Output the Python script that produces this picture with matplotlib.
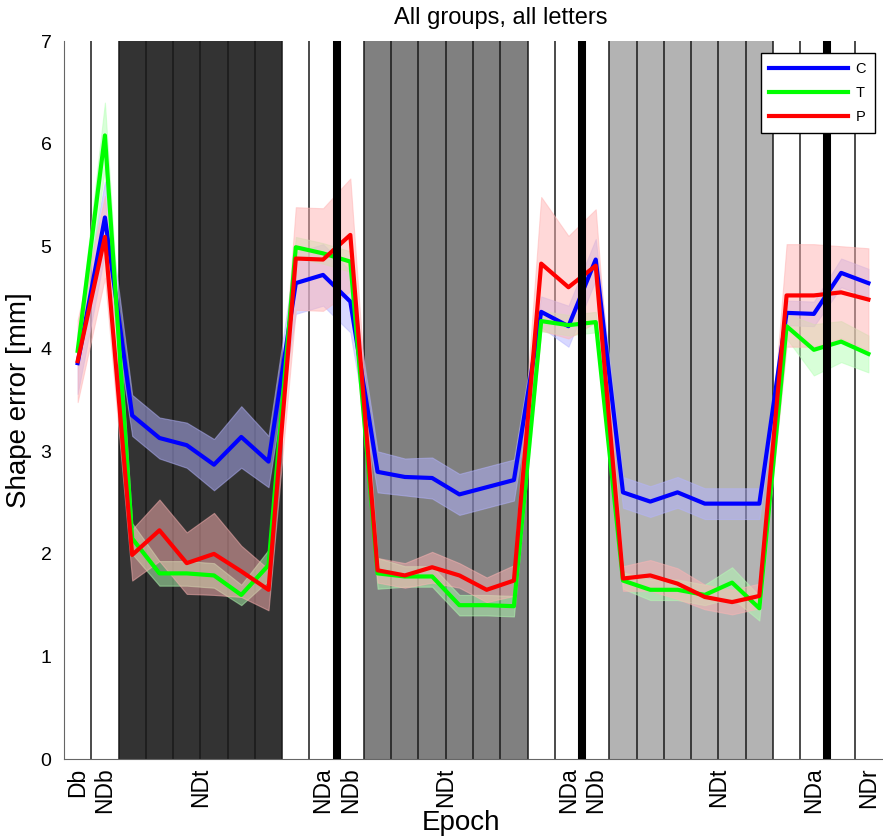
import numpy as np
import matplotlib
matplotlib.use("Agg")
import matplotlib.pyplot as plt

plt.rcParams["font.family"] = ["Liberation Sans", "DejaVu Sans"]

# epochs sit at bin centres 0.5 .. 29.5
n_epochs = 30
groups = ["C", "T", "P"]
colors = {"C": "#0000ff", "T": "#00ff00", "P": "#ff0000"}
band_colors = {"C": (0.7, 0.7, 1.0), "T": (0.7, 1.0, 0.7), "P": (1.0, 0.7, 0.7)}

err_C = [3.86, 5.28, 3.35, 3.13, 3.06, 2.87, 3.14, 2.90, 4.64, 4.72,
         4.46, 2.80, 2.75, 2.74, 2.58, 2.65, 2.72, 4.36, 4.22, 4.87,
         2.60, 2.51, 2.60, 2.49, 2.49, 2.49, 4.35, 4.34, 4.74, 4.64]
err_T = [3.98, 6.08, 2.15, 1.81, 1.81, 1.79, 1.60, 1.89, 4.99, 4.93,
         4.85, 1.81, 1.78, 1.78, 1.50, 1.50, 1.49, 4.27, 4.23, 4.26,
         1.74, 1.65, 1.65, 1.60, 1.72, 1.47, 4.22, 3.99, 4.07, 3.95]
err_P = [3.88, 5.09, 1.99, 2.23, 1.91, 2.00, 1.83, 1.65, 4.88, 4.87,
         5.11, 1.84, 1.79, 1.87, 1.79, 1.65, 1.74, 4.83, 4.60, 4.81,
         1.76, 1.79, 1.71, 1.58, 1.53, 1.59, 4.52, 4.52, 4.55, 4.48]

sem_C = [0.30, 0.35, 0.20, 0.20, 0.22, 0.25, 0.30, 0.25, 0.30, 0.30,
         0.30, 0.20, 0.18, 0.20, 0.20, 0.20, 0.20, 0.15, 0.20, 0.20,
         0.15, 0.15, 0.15, 0.15, 0.15, 0.15, 0.12, 0.12, 0.14, 0.14]
sem_T = [0.10, 0.32, 0.15, 0.12, 0.12, 0.12, 0.10, 0.15, 0.10, 0.10,
         0.10, 0.15, 0.10, 0.10, 0.10, 0.10, 0.10, 0.10, 0.10, 0.10,
         0.08, 0.10, 0.10, 0.10, 0.15, 0.12, 0.12, 0.25, 0.20, 0.18]
sem_P = [0.40, 0.40, 0.25, 0.30, 0.30, 0.40, 0.25, 0.20, 0.50, 0.50,
         0.55, 0.12, 0.12, 0.15, 0.12, 0.12, 0.15, 0.65, 0.50, 0.55,
         0.12, 0.15, 0.15, 0.12, 0.12, 0.12, 0.50, 0.50, 0.45, 0.50]

means = {"C": err_C, "T": err_T, "P": err_P}
sems = {"C": sem_C, "T": sem_T, "P": sem_P}

# training blocks (shaded) and session breaks (thick lines)
blocks = [(2, 8, "#333333"), (11, 17, "#808080"), (20, 26, "#b3b3b3")]
breaks = [10, 19, 28]

tick_pos = [0.5, 1.5, 5, 9.5, 10.5, 14, 18.5, 19.5, 24, 27.5, 29.5]
tick_lab = ["Db", "NDb", "NDt", "NDa", "NDb", "NDt", "NDa", "NDb", "NDt", "NDa", "NDr"]

fig = plt.figure(figsize=(8.83, 8.40), dpi=100)
ax = fig.add_axes([0.0725, 0.0964, 0.9264, 0.8547])

for x0, x1, c in blocks:
    ax.axvspan(x0, x1, color=c, zorder=0, lw=0)
for k in range(1, n_epochs):
    ax.axvline(k, color="0.1", lw=1.1, zorder=1)

x = np.arange(n_epochs) + 0.5
for g in groups:
    m = np.array(means[g]); s = np.array(sems[g])
    ax.fill_between(x, m - s, m + s, facecolor=band_colors[g], alpha=0.5,
                    edgecolor=band_colors[g], lw=0.8, zorder=2)
for g in groups:
    ax.plot(x, means[g], color=colors[g], lw=3, label=g, zorder=3)

for b in breaks:
    ax.axvline(b, color="black", lw=5.8, zorder=4)

ax.set_xlim(0, n_epochs)
ax.set_ylim(0, 7)
ax.set_yticks(range(8))
ax.set_xticks(tick_pos)
ax.set_xticklabels(tick_lab, rotation=90, fontsize=16.5)
ax.tick_params(axis="x", length=0, pad=6)
ax.tick_params(axis="y", length=0, pad=9, labelsize=14)
for sp in ("top", "right"):
    ax.spines[sp].set_visible(False)
ax.spines["left"].set_color("0.4")
ax.spines["bottom"].set_color("0.4")

ax.set_title("All groups, all letters", fontsize=17, pad=12, x=0.534)
ax.set_ylabel("Shape error [mm]", fontsize=20, labelpad=6)
ax.set_xlabel("Epoch", fontsize=20, labelpad=-2, x=0.485)

leg = ax.legend(loc="upper right", bbox_to_anchor=(0.991, 0.983), borderaxespad=0,
                fontsize=10.5, handlelength=5.4, handletextpad=0.5, labelspacing=0.7,
                borderpad=0.6, fancybox=False, framealpha=1, edgecolor="black")
leg.get_frame().set_linewidth(1.0)
leg.set_zorder(10)

fig.savefig("out.png", dpi=100)
